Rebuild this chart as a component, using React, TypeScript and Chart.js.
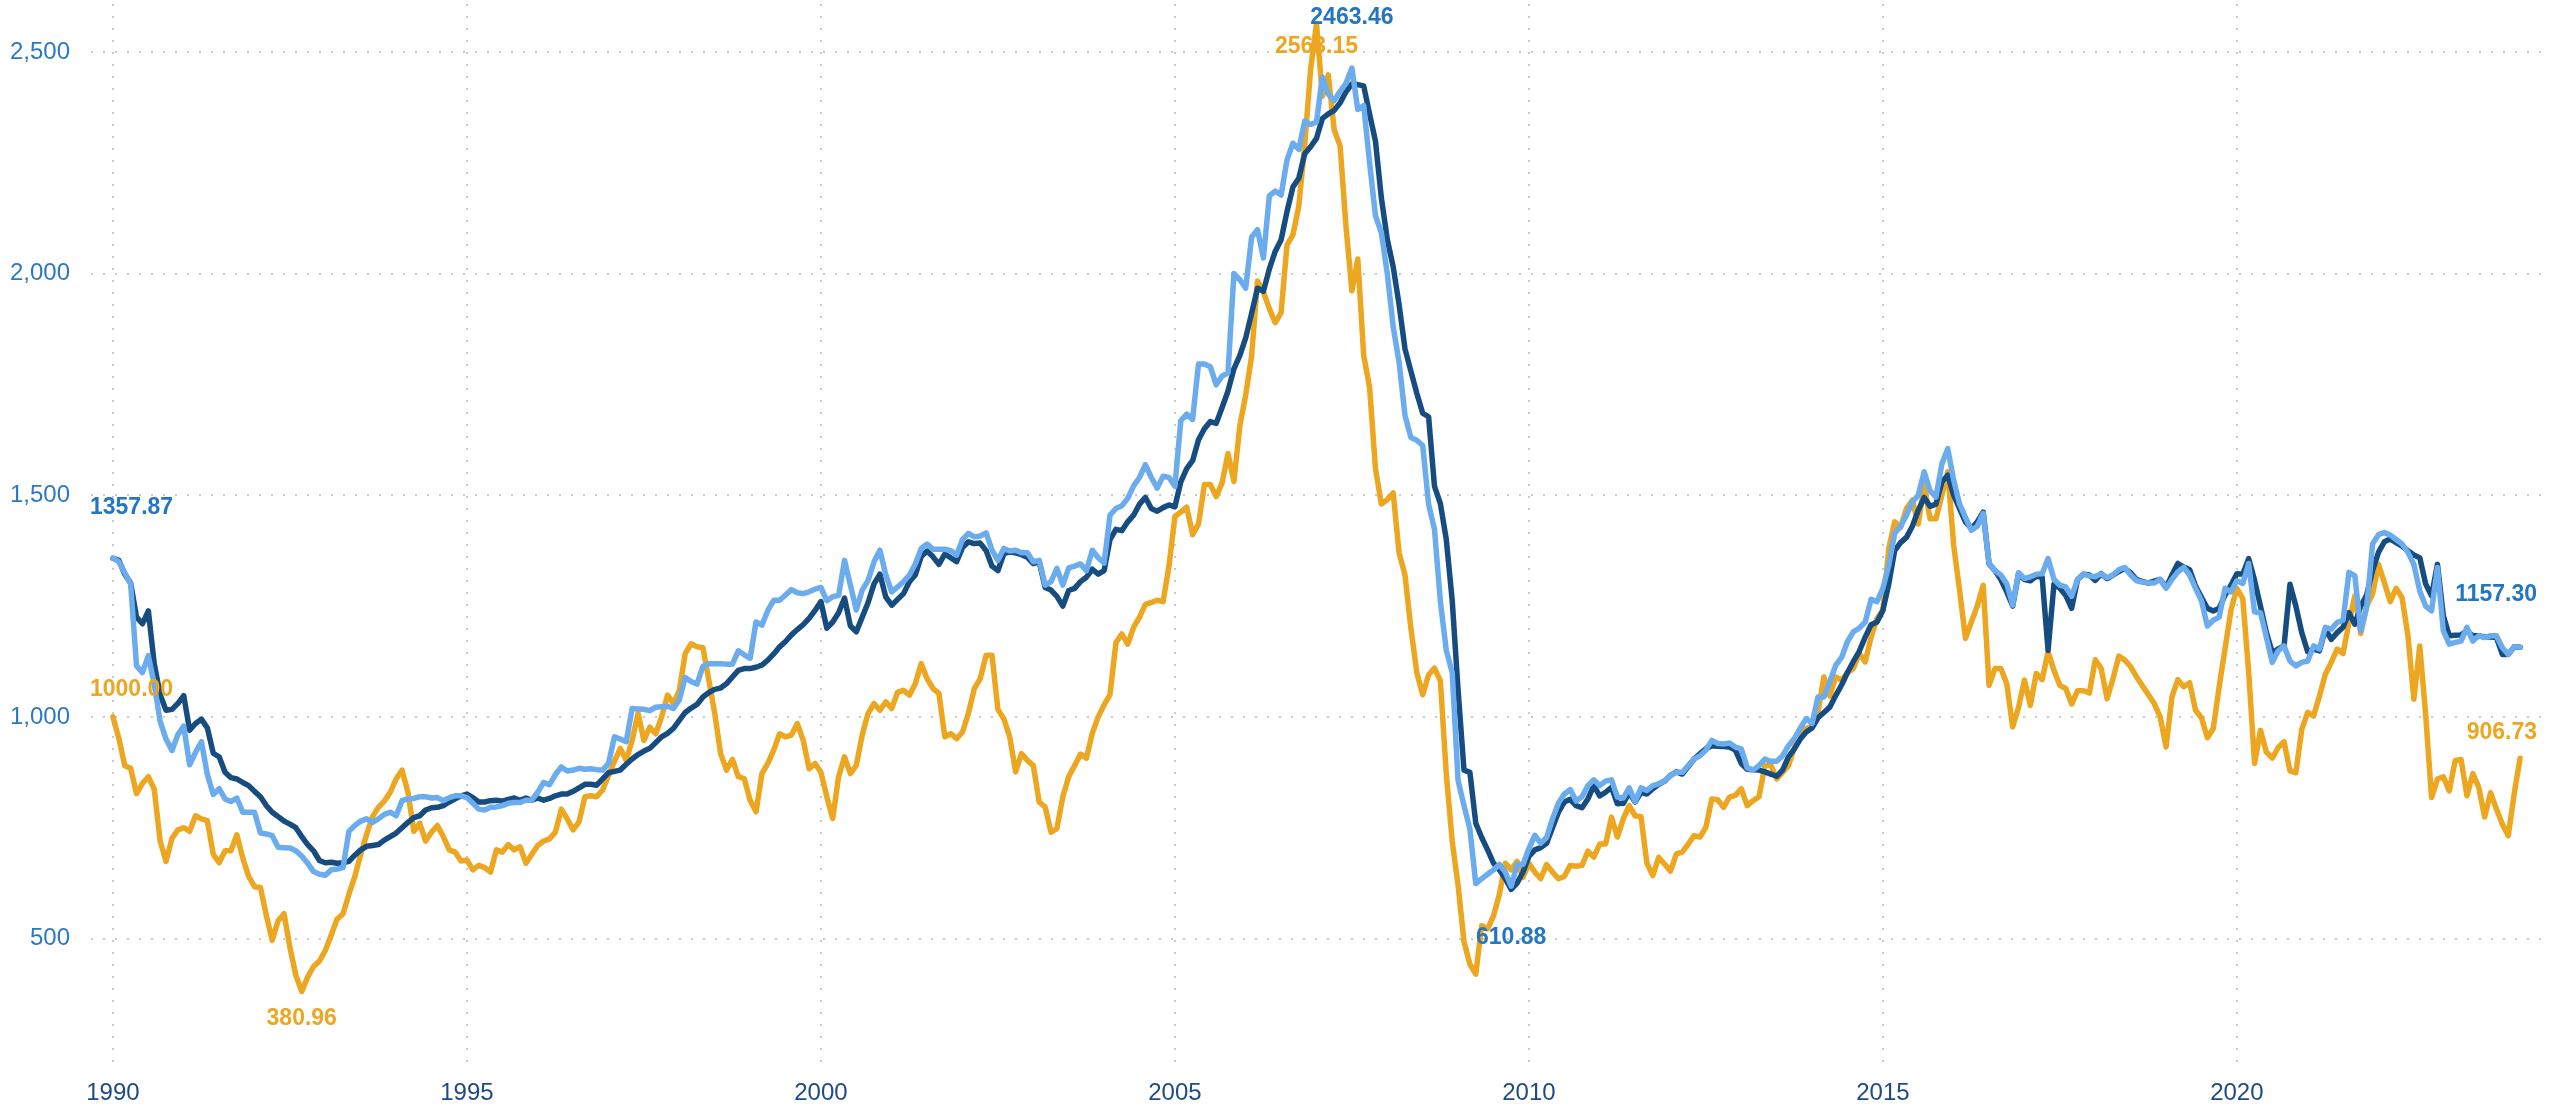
import React, { useEffect, useRef } from "react";
import { Chart, registerables } from "chart.js";

Chart.register(...registerables);

// ---------------- DATA ----------------
const START_YEAR = 1990;

// monthly values, Jan 1990 .. Jan 2024
const darkBlueValues = [
  1357.87, 1353, 1322, 1302, 1225, 1210, 1239, 1120, 1050, 1015, 1017, 1030,
  1048, 970, 985, 995, 975, 918, 910, 875, 863, 860, 852, 845,
  832, 820, 800, 785, 775, 765, 758, 750, 730, 712, 698, 676,
  671, 672, 670, 671, 674, 688, 700, 708, 710, 712, 722, 730,
  738, 750, 762, 773, 777, 790, 795, 796, 800, 808, 815, 822,
  826, 818, 808, 808, 811, 812, 810, 814, 817, 812, 817, 812,
  817, 812, 816, 822, 826, 826, 832, 840, 848, 848, 846, 860,
  874, 877, 880, 893, 905, 915, 923, 929, 942, 955, 963, 974,
  992, 1010, 1020, 1028, 1045, 1055, 1062, 1065, 1075, 1090, 1105, 1109,
  1109, 1112, 1117, 1128, 1142, 1158, 1170, 1185, 1197, 1208, 1222, 1240,
  1260, 1200, 1214, 1235, 1268, 1205, 1192, 1225, 1258, 1300, 1322, 1270,
  1252, 1265, 1278, 1305, 1320, 1362, 1374, 1361, 1344, 1367, 1359, 1350,
  1382, 1395, 1391, 1392, 1375, 1340, 1330, 1368, 1372, 1370, 1366, 1360,
  1346, 1350, 1292, 1286, 1272, 1250, 1285, 1290, 1305, 1315, 1333, 1322,
  1330, 1400, 1423, 1420, 1440, 1455, 1480, 1495, 1470, 1464, 1472, 1478,
  1474, 1530, 1560, 1578, 1625, 1650, 1666, 1662, 1698, 1735, 1785, 1815,
  1855, 1910, 1967, 1960, 2010, 2050, 2076, 2140, 2195, 2215, 2270, 2286,
  2305, 2350, 2360, 2368, 2385, 2410, 2428, 2426, 2423, 2360, 2298, 2170,
  2077, 2015, 1930, 1830, 1780, 1730, 1685, 1677, 1520, 1481, 1400, 1263,
  1060, 880, 875, 760, 728, 700, 670, 655, 635, 610.88, 625, 650,
  685, 700, 705, 715, 750, 785, 808, 814, 800, 795, 815, 845,
  822, 830, 841, 804, 805, 830, 808, 830, 826, 838, 848, 855,
  868, 876, 871, 888, 905, 917, 928, 935, 934, 933, 932, 925,
  895, 882, 881, 880, 876, 871, 866, 880, 910, 928, 950, 966,
  975, 998, 1010, 1022, 1048, 1072, 1100, 1125, 1148, 1180, 1208, 1214,
  1240, 1300, 1375, 1393, 1405, 1430, 1466, 1495, 1475, 1480, 1530, 1545,
  1500, 1470, 1440, 1425, 1440, 1462, 1345, 1330, 1310, 1282, 1250, 1323,
  1310, 1307, 1317, 1315, 1150, 1300, 1290, 1274, 1245, 1310, 1322, 1320,
  1308, 1323, 1312, 1320, 1328, 1335, 1325, 1310, 1305, 1302, 1306, 1310,
  1292, 1320, 1346, 1338, 1332, 1295, 1270, 1245, 1239, 1245, 1275, 1297,
  1323, 1322, 1357, 1308, 1250, 1190, 1145, 1153, 1160, 1299, 1250, 1190,
  1147, 1153, 1149, 1198, 1175, 1190, 1202, 1235, 1209, 1250, 1275, 1330,
  1371, 1395, 1401, 1393, 1385, 1375, 1365, 1359, 1300, 1273, 1344, 1228,
  1183, 1184, 1185, 1194, 1183, 1183, 1180, 1180, 1179, 1141, 1141, 1158,
  1157.3,
];

const lightBlueValues = [
  1357.87, 1350, 1325, 1300, 1115, 1100, 1138, 1074, 990, 950, 924, 960,
  979, 892, 920, 944, 870, 825, 838, 815, 809, 817, 785, 785,
  785, 738, 736, 732, 706, 705, 704, 698, 686, 670, 651, 645,
  643, 655, 657, 660, 742, 755, 765, 770, 762, 770, 780, 785,
  777, 811, 815, 816, 820, 820, 817, 818, 811, 818, 822, 822,
  818, 805, 792, 790, 796, 797, 800, 805, 807, 807, 812, 812,
  830, 852, 847, 870, 887, 878, 880, 884, 882, 883, 881, 880,
  895, 955, 950, 944, 1019, 1018, 1017, 1014, 1022, 1023, 1024, 1019,
  1038, 1089, 1080, 1074, 1114, 1120, 1120, 1120, 1119, 1119, 1149, 1140,
  1132, 1214, 1207, 1240, 1263, 1263, 1275, 1287, 1280, 1278, 1282, 1288,
  1292, 1262, 1271, 1274, 1353, 1297, 1241, 1286, 1308, 1350, 1376, 1320,
  1282, 1293, 1305, 1320, 1345, 1380, 1390, 1378, 1378, 1378, 1375, 1365,
  1400, 1414, 1406, 1408, 1415, 1376, 1353, 1380, 1374, 1376, 1370, 1370,
  1350, 1353, 1297, 1305, 1335, 1297, 1336, 1340, 1345, 1330, 1376, 1359,
  1347, 1455, 1470, 1476, 1493, 1521, 1540, 1569, 1540, 1516, 1543, 1540,
  1520, 1668, 1683, 1671, 1796, 1796, 1790, 1749, 1769, 1776, 2000, 1986,
  1967, 2082, 2099, 2035, 2175, 2186, 2177, 2256, 2294, 2280, 2344, 2336,
  2342, 2443, 2404, 2390, 2411, 2429, 2463.46, 2370, 2379, 2250, 2130, 2092,
  2000, 1880, 1800, 1680, 1630, 1624, 1612, 1480, 1423, 1260, 1150, 1100,
  856, 800, 747, 624, 635, 645, 655, 667, 650, 618, 667, 667,
  703, 733, 715, 728, 770, 805, 826, 836, 810, 820, 845, 858,
  845, 855, 858, 819, 817, 840, 809, 840, 834, 845, 849, 855,
  868, 875, 875, 890, 905, 912, 925, 947, 940, 939, 941, 932,
  928, 885, 880, 890, 905, 900, 900, 912, 935, 951, 975, 996,
  985, 1045, 1045, 1080, 1116, 1134, 1170, 1192, 1200, 1214, 1265, 1260,
  1290, 1342, 1414, 1430, 1455, 1485, 1500, 1553, 1510, 1496, 1571, 1605,
  1534, 1480, 1450, 1421, 1430, 1459, 1346, 1330, 1320, 1300, 1252, 1325,
  1312, 1316, 1322, 1323, 1357, 1310, 1297, 1293, 1272, 1310, 1322, 1318,
  1316, 1323, 1314, 1320, 1332, 1337, 1320, 1307, 1304, 1302, 1302, 1310,
  1290, 1310, 1327, 1337, 1320, 1290, 1262, 1205, 1218, 1225, 1290, 1282,
  1307, 1301, 1346, 1237, 1235, 1180, 1123, 1149, 1160, 1126, 1115, 1123,
  1126, 1160, 1153, 1202, 1198, 1213, 1218, 1326, 1318, 1194, 1247, 1390,
  1411, 1416, 1410, 1400, 1390, 1371, 1344, 1284, 1250, 1239, 1337, 1194,
  1164, 1168, 1171, 1202, 1171, 1183, 1179, 1183, 1183, 1156, 1141, 1158,
  1157.3,
];

const orangeValues = [
  1000.0, 952, 890, 884, 827, 850, 865, 837, 720, 674, 726, 745,
  750, 742, 777, 770, 766, 690, 671, 698, 698, 734, 682, 640,
  617, 615, 552, 496, 540, 556, 480, 417, 380.96, 413, 437, 449,
  473, 508, 544, 556, 600, 640, 690, 735, 775, 796, 810, 830,
  860, 880, 830, 742, 760, 720, 740, 755, 730, 700, 695, 675,
  677, 655, 665, 660, 650, 700, 695, 712, 700, 707, 670, 690,
  710, 720, 725, 740, 792, 770, 745, 763, 820, 822, 820, 835,
  868, 900, 929, 902, 947, 1008, 947, 977, 962, 1000, 1049, 1030,
  1060, 1143, 1165, 1158, 1156, 1083, 1008, 917, 880, 904, 865, 861,
  812, 786, 872, 895, 925, 962, 955, 959, 985, 947, 883, 895,
  875, 820, 771, 865, 910, 872, 891, 959, 1008, 1030, 1015, 1034,
  1019, 1056, 1060, 1049, 1075, 1120, 1086, 1064, 1053, 955, 962, 951,
  966, 1008, 1064, 1086, 1139, 1139, 1017, 996, 955, 876, 917, 902,
  890, 808, 797, 740, 748, 820, 865, 890, 916, 907, 963, 1000,
  1027, 1050, 1167, 1187, 1164, 1202, 1225, 1254, 1258, 1263, 1260, 1341,
  1452, 1462, 1473, 1411, 1435, 1524, 1524, 1497, 1528, 1594, 1531, 1656,
  1726, 1814, 1983, 1959, 1921, 1889, 1912, 2064, 2087, 2152, 2290, 2460,
  2563.15, 2400, 2448, 2324, 2288, 2106, 1961, 2033, 1815, 1743, 1560, 1480,
  1490, 1505, 1370, 1320, 1200, 1100, 1050, 1095, 1110, 1081, 871, 720,
  620, 493, 442, 420, 529, 522, 551, 600, 670, 655, 674, 638,
  670, 650, 635, 667, 650, 635, 640, 665, 663, 665, 697, 684,
  713, 713, 774, 729, 770, 800, 777, 775, 670, 642, 683, 668,
  652, 691, 695, 713, 732, 729, 751, 815, 813, 796, 819, 823,
  838, 800, 811, 820, 890, 892, 860, 875, 890, 930, 966, 974,
  978, 1011, 1090, 1047, 1090, 1083, 1100, 1109, 1143, 1124, 1180, 1222,
  1241, 1380, 1440, 1427, 1470, 1489, 1435, 1523, 1447, 1447, 1500, 1553,
  1387, 1286, 1177, 1214, 1250, 1297, 1071, 1109, 1109, 1075, 977, 1022,
  1083, 1026, 1098, 1084, 1147, 1105, 1071, 1064, 1029, 1059, 1059, 1054,
  1129, 1109, 1041, 1086, 1137, 1128, 1113, 1090, 1070, 1050, 1030, 1000,
  932, 1045, 1084, 1068, 1077, 1015, 998, 953, 974, 1068, 1154, 1241,
  1290, 1267, 1102, 895, 970, 921, 907, 931, 944, 878, 874, 972,
  1010, 1002, 1047, 1096, 1123, 1153, 1143, 1213, 1273, 1188, 1250, 1277,
  1344, 1303, 1260, 1290, 1269, 1183, 1040, 1160, 1006, 818, 860, 865,
  833, 901, 904, 822, 872, 841, 774, 829, 792, 758, 732, 826,
  906.73,
];

// categories: one per month
const monthLabels = darkBlueValues.map(
  (_, i) => `${START_YEAR + Math.floor(i / 12)}-${String((i % 12) + 1).padStart(2, "0")}`
);

const xTickValues = [1990, 1995, 2000, 2005, 2010, 2015, 2020];
const yTickValues = [500, 1000, 1500, 2000, 2500];

// ---------------- STYLE ----------------
const DARK_BLUE = "#164c80";
const LIGHT_BLUE = "#6aacee";
const ORANGE = "#eca620";
const LABEL_BLUE = "#2376c1";
const FONT_FAMILY = '"Liberation Sans", Arial, Helvetica, sans-serif';

function labelToYear(label: string): number {
  const [y, m] = label.split("-").map(Number);
  return y + (m - 1) / 12;
}

function toPoints(values: number[]) {
  return values.map((v, i) => ({ x: labelToYear(monthLabels[i]), y: v }));
}

function argMax(a: number[]) {
  let k = 0;
  a.forEach((v, i) => { if (v > a[k]) k = i; });
  return k;
}
function argMin(a: number[]) {
  let k = 0;
  a.forEach((v, i) => { if (v < a[k]) k = i; });
  return k;
}

// dataset indices: 0 = light blue, 1 = dark blue, 2 = orange
const labelSpecs = [
  { ds: 0, values: lightBlueValues, index: 0, dy: -51, color: LABEL_BLUE },
  { ds: 0, values: lightBlueValues, index: argMax(lightBlueValues), dy: -50, color: LABEL_BLUE },
  { ds: 1, values: darkBlueValues, index: argMin(darkBlueValues), dy: 48, color: LABEL_BLUE },
  { ds: 0, values: lightBlueValues, index: lightBlueValues.length - 1, dy: -52, color: LABEL_BLUE },
  { ds: 2, values: orangeValues, index: 0, dy: -27, color: ORANGE },
  { ds: 2, values: orangeValues, index: argMin(orangeValues), dy: 27, color: ORANGE },
  { ds: 2, values: orangeValues, index: argMax(orangeValues), dy: 23, color: ORANGE },
  { ds: 2, values: orangeValues, index: orangeValues.length - 1, dy: -26, color: ORANGE },
];

const valueLabelPlugin = {
  id: "valueLabels",
  afterDatasetsDraw(chart: any) {
    const { ctx, chartArea } = chart;
    ctx.save();
    ctx.font = `bold 23px ${FONT_FAMILY}`;
    ctx.textBaseline = "middle";
    ctx.textAlign = "left";
    for (const s of labelSpecs) {
      const meta = chart.getDatasetMeta(s.ds);
      const pt = meta.data[s.index];
      if (!pt) continue;
      const text = s.values[s.index].toFixed(2);
      const w = ctx.measureText(text).width;
      let left = pt.x - w / 2;
      left = Math.max(chartArea.left - 1, Math.min(chartArea.right - 5 - w, left));
      ctx.fillStyle = s.color;
      ctx.fillText(text, left, pt.y + s.dy);
    }
    ctx.restore();
  },
};

export default function App() {
  const canvasRef = useRef<HTMLCanvasElement | null>(null);

  useEffect(() => {
    document.body.style.margin = "0";
    const canvas = canvasRef.current;
    if (!canvas) return;

    const lineStyle = {
      borderWidth: 5.5,
      pointRadius: 0,
      pointHoverRadius: 0,
      tension: 0,
      borderJoinStyle: "round" as const,
      borderCapStyle: "round" as const,
      fill: false,
    };

    const chart = new Chart(canvas, {
      type: "line",
      data: {
        datasets: [
          { label: "Light blue", data: toPoints(lightBlueValues), borderColor: LIGHT_BLUE, backgroundColor: LIGHT_BLUE, ...lineStyle },
          { label: "Dark blue", data: toPoints(darkBlueValues), borderColor: DARK_BLUE, backgroundColor: DARK_BLUE, ...lineStyle },
          { label: "Orange", data: toPoints(orangeValues), borderColor: ORANGE, backgroundColor: ORANGE, ...lineStyle },
        ],
      },
      options: {
        animation: false,
        responsive: false,
        devicePixelRatio: 1,
        events: [],
        layout: { padding: { top: 4, right: 20, left: 0, bottom: 0 } },
        plugins: {
          legend: { display: false },
          tooltip: { enabled: false },
          title: { display: false },
        },
        scales: {
          x: {
            type: "linear",
            min: 1989.69,
            max: 2024.31,
            afterBuildTicks: (scale: any) => {
              scale.ticks = xTickValues.map((v) => ({ value: v }));
            },
            afterFit: (scale: any) => {
              scale.height = 36;
              scale.paddingLeft = 0;
              scale.paddingRight = 0;
              scale.paddingTop = 0;
              scale.paddingBottom = 0;
            },
            ticks: {
              callback: (v: any) => String(v),
              color: "#1f4a85",
              font: { size: 24, family: FONT_FAMILY },
              padding: 7,
              maxRotation: 0,
              autoSkip: false,
            },
            grid: {
              display: true,
              drawTicks: false,
              color: "#c9c9c9",
              lineWidth: 2,
            },
            border: { display: false, dash: [2, 10] },
          },
          y: {
            type: "linear",
            min: 199,
            max: 2608,
            afterBuildTicks: (scale: any) => {
              scale.ticks = yTickValues.map((v) => ({ value: v }));
            },
            afterFit: (scale: any) => {
              scale.width = 91;
              scale.paddingLeft = 0;
              scale.paddingRight = 0;
              scale.paddingTop = 0;
              scale.paddingBottom = 0;
            },
            ticks: {
              callback: (v: any) => Number(v).toLocaleString("en-US"),
              color: "#2b79c4",
              font: { size: 24, family: FONT_FAMILY },
              padding: 21,
              autoSkip: false,
            },
            grid: {
              display: true,
              drawTicks: false,
              color: "#c9c9c9",
              lineWidth: 2,
            },
            border: { display: false, dash: [2, 10] },
          },
        },
      },
      plugins: [valueLabelPlugin],
    });

    return () => {
      chart.destroy();
    };
  }, []);

  return (
    <div style={{ position: "fixed", left: 0, top: 0, width: 2562, height: 1108, background: "#ffffff", overflow: "hidden" }}>
      <canvas ref={canvasRef} width={2562} height={1108} style={{ display: "block", width: 2562, height: 1108 }} />
    </div>
  );
}
